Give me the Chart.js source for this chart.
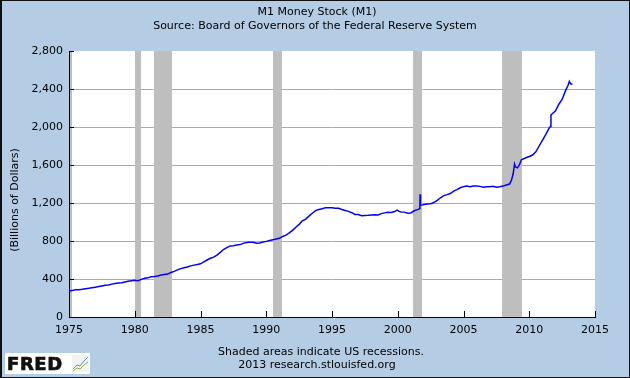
<!DOCTYPE html>
<html><head><meta charset="utf-8">
<script src="https://cdn.jsdelivr.net/npm/chart.js@4"></script>
<style>
html,body{margin:0;padding:0;background:#b4cde4;}
#wrap{position:relative;width:630px;height:378px;background:#b4cde4;overflow:hidden;}
#frame{position:absolute;left:0;top:0;width:630px;height:378px;box-sizing:border-box;border:1px solid #111;border-left-width:2px;pointer-events:none;z-index:3}
canvas{position:absolute;left:0;top:0;}
.t{position:absolute;left:0;width:630px;text-align:center;font-family:'DejaVu Sans';font-size:11px;line-height:13px;color:#000;white-space:nowrap}
#ytitle{position:absolute;left:-85px;top:193px;width:200px;height:14px;text-align:center;font-family:'DejaVu Sans';font-size:11px;line-height:14px;color:#000;transform:rotate(-90deg);transform-origin:100px 7px;white-space:nowrap}
#logo{position:absolute;left:5px;top:353px;width:85px;height:21px;background:#fff;}
#logo span{position:absolute;left:2px;top:0px;font-family:'DejaVu Sans';font-weight:bold;font-size:18px;line-height:21px;color:#111;letter-spacing:0.6px;-webkit-text-stroke:0.7px #111}
#logo svg{position:absolute;left:67px;top:2px;}
</style></head>
<body><div id="wrap">
<canvas id="c" width="630" height="378"></canvas>
<div class="t" style="top:5px;left:2px">M1 Money Stock (M1)</div>
<div class="t" style="top:19px;left:0px">Source: Board of Governors of the Federal Reserve System</div>
<div id="ytitle">(Billions of Dollars)</div>
<div class="t" style="top:345px;left:6px">Shaded areas indicate US recessions.</div>
<div class="t" style="top:358px;left:2px">2013 research.stlouisfed.org</div>
<div id="logo"><span>FRED</span>
<svg width="17" height="17" viewBox="0 0 17 17"><rect x="0" y="0" width="17" height="17" fill="#f2f2f2"/><polyline points="1,14 5,10 8,11 12,6 16,2" fill="none" stroke="#6a8fc0" stroke-width="1"/><polyline points="1,16 5,13 8,14 12,10 16,7" fill="none" stroke="#8cb050" stroke-width="1"/></svg></div>
<div id="frame"></div>
</div>
<script>
const dates = [
1975.00,1975.25,1975.50,1975.75,1976.00,1976.25,1976.50,1976.75,
1977.00,1977.25,1977.50,1977.75,1978.00,1978.25,1978.50,1978.75,
1979.00,1979.25,1979.50,1979.75,1980.00,1980.25,1980.50,1980.75,
1981.00,1981.25,1981.50,1981.75,1982.00,1982.25,1982.50,1982.75,
1983.00,1983.25,1983.50,1983.75,1984.00,1984.25,1984.50,1984.75,
1985.00,1985.25,1985.50,1985.75,1986.00,1986.25,1986.50,1986.75,
1987.00,1987.25,1987.50,1987.75,1988.00,1988.25,1988.50,1988.75,
1989.00,1989.25,1989.50,1989.75,1990.00,1990.25,1990.50,1990.75,
1991.00,1991.25,1991.50,1991.75,1992.00,1992.25,1992.50,1992.75,
1993.00,1993.25,1993.50,1993.75,1994.00,1994.25,1994.50,1994.75,
1995.00,1995.25,1995.50,1995.75,1996.00,1996.25,1996.50,1996.75,
1997.00,1997.25,1997.50,1997.75,1998.00,1998.25,1998.50,1998.75,
1999.00,1999.25,1999.50,1999.75,1999.95,2000.10,2000.25,2000.50,2000.75,
2001.00,2001.25,2001.50,2001.68,2001.70,2001.73,2001.90,
2002.00,2002.25,2002.50,2002.75,2003.00,2003.25,2003.50,2003.75,
2004.00,2004.25,2004.50,2004.75,2005.00,2005.25,2005.50,2005.75,
2006.00,2006.25,2006.50,2006.75,2007.00,2007.25,2007.50,2007.75,
2008.00,2008.25,2008.50,2008.65,2008.78,2008.88,2008.95,
2009.10,2009.25,2009.40,2009.75,2010.00,2010.25,2010.50,2010.75,
2011.00,2011.25,2011.50,2011.60,2011.65,2011.75,
2012.00,2012.25,2012.50,2012.75,2012.95,2013.05,2013.15,2013.28
];
const m1 = [
274,280,286,288,292,298,302,308,
314,320,327,333,338,346,352,358,
361,369,377,382,386,382,396,408,
412,424,427,432,442,447,452,468,
480,496,509,518,526,538,546,552,
560,580,600,618,630,652,680,710,
730,748,750,757,762,775,783,786,
786,776,780,790,796,806,812,822,
828,848,862,885,912,945,975,1012,
1030,1062,1092,1120,1132,1140,1150,1150,
1150,1146,1144,1132,1122,1112,1098,1080,
1078,1066,1068,1070,1074,1076,1074,1088,
1096,1102,1100,1110,1125,1112,1106,1104,1092,
1095,1118,1130,1140,1292,1175,1180,
1185,1190,1192,1205,1228,1255,1278,1288,
1300,1325,1340,1360,1372,1378,1372,1378,
1380,1375,1365,1370,1372,1375,1366,1370,
1378,1390,1400,1440,1510,1610,1580,
1570,1600,1655,1676,1690,1705,1738,1800,
1860,1920,1985,2005,2125,2140,
2170,2240,2290,2380,2440,2480,2455,2450
];
const recessionStart = [1980.0, 1981.5, 1990.5, 2001.17, 2007.92];
const recessionEnd   = [1980.5, 1982.83, 1991.17, 2001.83, 2009.42];
const yTicks = [0,400,800,1200,1600,2000,2400,2800];
const xTicks = [1975,1980,1985,1990,1995,2000,2005,2010,2015];

const fredPlugin = {
  id: 'fred',
  beforeDraw(chart) {
    const {ctx, chartArea: a} = chart;
    ctx.save();
    ctx.fillStyle = '#ffffff';
    ctx.fillRect(a.left, a.top, a.right - a.left, a.bottom - a.top);
    ctx.restore();
  },
  beforeDatasetsDraw(chart) {
    const {ctx, chartArea: a, scales: {x, y}} = chart;
    ctx.save();
    ctx.fillStyle = '#bebebe';
    for (let i = 0; i < recessionStart.length; i++) {
      const x0 = Math.round(x.getPixelForValue(recessionStart[i]));
      const x1 = Math.round(x.getPixelForValue(recessionEnd[i]));
      ctx.fillRect(x0, a.top, x1 - x0, a.bottom - a.top);
    }
    ctx.fillRect(Math.round(a.left) + 1, a.top, 2, a.bottom - a.top);
    ctx.fillStyle = '#000';
    xTicks.forEach(v => {
      const px = Math.round(x.getPixelForValue(v));
      ctx.fillRect(px, a.bottom - 6, 1, 6);
    });
    yTicks.forEach(v => {
      const py = Math.round(y.getPixelForValue(v));
      ctx.fillRect(Math.round(a.left), py, 5, 1);
    });
    ctx.restore();
  }
};

const font = {family: 'DejaVu Sans', size: 11};
new Chart(document.getElementById('c'), {
  type: 'line',
  data: {
    datasets: [{
      data: dates.map((d, i) => ({x: d, y: m1[i]})),
      borderColor: '#0000ff',
      borderWidth: 1.5,
      pointRadius: 0,
      tension: 0,
      fill: false
    }]
  },
  options: {
    responsive: false,
    animation: false,
    devicePixelRatio: 1,
    layout: {padding: {top: 51, right: 35, left: 0, bottom: 0}},
    plugins: {legend: {display: false}, tooltip: {enabled: false}, title: {display: false}},
    scales: {
      x: {
        type: 'linear', min: 1975, max: 2015,
        afterBuildTicks: s => { s.ticks = xTicks.map(v => ({value: v})); },
        ticks: {color: '#000', font, padding: 7, maxRotation: 0, autoSkip: false, callback: v => String(v)},
        grid: {display: true, drawOnChartArea: false, drawTicks: false},
        border: {display: true, color: '#000', width: 1},
        afterFit: s => { s.height = 61; }
      },
      y: {
        min: 0, max: 2800,
        afterBuildTicks: s => { s.ticks = yTicks.map(v => ({value: v})); },
        ticks: {color: '#000', font, padding: 6, callback: v => v.toLocaleString('en-US')},
        grid: {drawTicks: false, lineWidth: 1, color: c => (c.tick && (c.tick.value === 0 || c.tick.value === 2800)) ? 'rgba(0,0,0,0)' : '#aaaaaa'},
        border: {display: true, color: '#000', width: 1},
        afterFit: s => { s.width = 69; }
      }
    }
  },
  plugins: [fredPlugin]
});
</script>
</body></html>
